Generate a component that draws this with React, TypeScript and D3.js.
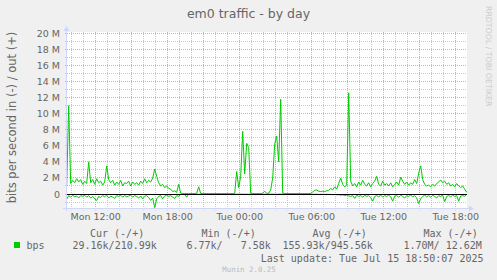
import React from 'react';
import * as d3 from 'd3';

const title = 'em0 traffic - by day';
const yAxisTitle = 'bits per second in (-) / out (+)';
const watermark = 'RRDTOOL / TOBI OETIKER';
const yTickValues = [0, 2, 4, 6, 8, 10, 12, 14, 16, 18, 20];
const yTickLabels = ['0', '2 M', '4 M', '6 M', '8 M', '10 M', '12 M', '14 M', '16 M', '18 M', '20 M'];
const xTickHours = [12, 18, 24, 30, 36, 42];
const xTickLabels = ['Mon 12:00', 'Mon 18:00', 'Tue 00:00', 'Tue 06:00', 'Tue 12:00', 'Tue 18:00'];

// hours since Monday 00:00; one sample every 10 minutes
const startHour = 9 + 35 / 60;
const endHour = startHour + 400 / 12;
const stepHours = 10 / 60;

// out (+), Mbit/s
const outValues = [
  1.0, 11.0, 1.3, 1.7, 1.4, 1.9, 1.5, 1.8, 1.2, 1.6,
  1.3, 4.0, 1.4, 1.8, 1.2, 1.9, 1.4, 1.6, 1.1, 1.5,
  3.5, 1.8, 1.4, 1.7, 1.1, 1.5, 1.2, 1.7, 1.0, 1.4,
  1.3, 1.6, 1.0, 1.5, 1.2, 1.4, 1.1, 1.6, 1.3, 1.9,
  1.4, 1.7, 1.5, 2.0, 3.1, 2.2, 1.4, 1.0, 1.2, 0.8,
  1.0, 0.7, 0.6, 0.3, 0.4, 0.2, 1.2, 0.1, 0.07, 0.06,
  0.06, 0.05, 0.06, 0.05, 0.06, 0.07, 0.9, 0.06, 0.05, 0.05,
  0.06, 0.05, 0.05, 0.06, 0.05, 0.05, 0.06, 0.05, 0.05, 0.06,
  0.05, 0.05, 0.06, 0.05, 0.07, 2.8, 0.8, 2.2, 7.8, 2.5,
  6.3, 5.8, 0.1, 0.06, 0.05, 0.06, 0.05, 0.06, 0.1, 0.35,
  0.08, 0.1, 0.5, 2.0, 6.2, 7.2, 4.0, 11.8, 0.1, 0.07,
  0.06, 0.06, 0.05, 0.06, 0.06, 0.05, 0.06, 0.06, 0.05, 0.06,
  0.05, 0.06, 0.07, 0.25, 0.45, 0.5, 0.35, 0.3, 0.35, 0.3,
  0.4, 0.45, 0.7, 0.5, 0.9, 0.6, 1.3, 2.0, 1.2, 0.9,
  1.1, 12.6, 1.6, 1.0, 1.3, 0.9, 1.5, 1.1, 1.7, 1.2,
  1.0, 1.4, 0.9, 1.3, 1.6, 2.2, 1.2, 1.0, 1.6, 1.1,
  1.3, 1.0, 1.4, 0.9, 1.2, 1.5, 1.1, 2.1, 1.6, 1.2,
  1.5, 1.1, 1.4, 1.2, 1.8, 1.3, 2.6, 3.5, 1.8, 1.2,
  1.0, 1.1, 0.9, 1.2, 1.0, 1.3, 1.5, 1.75, 1.4, 1.6,
  1.2, 1.4, 1.0, 1.2, 0.9, 1.3, 1.0, 0.8, 1.0, 0.6,
  0.21,
];

// in (-), Mbit/s (drawn below zero)
const inValues = [
  0.66, 0.2, 0.4, 0.15, 0.35, 0.25, 0.5, 0.2, 0.3, 0.15,
  0.4, 0.2, 0.5, 0.3, 0.6, 0.8, 0.3, 0.45, 0.2, 0.35,
  0.15, 0.5, 0.25, 0.4, 0.55, 0.2, 0.3, 0.15, 0.4, 0.2,
  0.35, 0.25, 0.15, 0.4, 0.2, 0.3, 0.5, 0.25, 0.6, 0.3,
  0.2, 0.45, 0.8, 0.5, 1.7, 0.6, 0.3, 0.2, 0.6, 0.25,
  0.15, 0.3, 0.2, 0.4, 0.55, 0.2, 0.3, 0.05, 0.03, 0.05,
  0.4, 0.03, 0.02, 0.02, 0.01, 0.02, 0.03, 0.02, 0.02, 0.01,
  0.02, 0.02, 0.01, 0.02, 0.02, 0.02, 0.01, 0.02, 0.02, 0.02,
  0.02, 0.01, 0.02, 0.02, 0.03, 0.02, 0.02, 0.01, 0.02, 0.02,
  0.02, 0.02, 0.01, 0.02, 0.02, 0.02, 0.01, 0.02, 0.02, 0.02,
  0.02, 0.01, 0.02, 0.02, 0.03, 0.02, 0.02, 0.01, 0.02, 0.02,
  0.02, 0.02, 0.01, 0.02, 0.02, 0.02, 0.01, 0.02, 0.02, 0.02,
  0.02, 0.02, 0.03, 0.03, 0.04, 0.03, 0.05, 0.04, 0.03, 0.05,
  0.04, 0.06, 0.05, 0.08, 0.06, 0.1, 0.08, 0.15, 0.1, 0.2,
  0.12, 0.25, 0.3, 0.2, 0.55, 0.15, 0.3, 0.2, 0.4, 0.15,
  0.3, 0.2, 0.45, 0.9, 0.3, 0.2, 0.35, 0.15, 0.4, 0.2,
  0.3, 0.15, 0.35, 0.9, 0.25, 0.2, 0.4, 0.15, 0.3, 0.5,
  0.2, 0.3, 0.15, 0.35, 0.2, 0.5, 1.2, 0.6, 0.3, 0.15,
  0.35, 0.2, 0.4, 0.15, 0.3, 0.5, 0.2, 0.3, 0.15, 0.95,
  0.3, 0.2, 0.35, 0.15, 0.3, 0.2, 0.9, 0.25, 0.2, 0.3,
  0.03,
];

const seriesName = 'bps';
const legendHeaders = ['Cur (-/+)', 'Min (-/+)', 'Avg (-/+)', 'Max (-/+)'];
const legendValues = ['29.16k/210.99k', '6.77k/   7.58k', '155.93k/945.56k', '1.70M/ 12.62M'];
const lastUpdate = 'Last update: Tue Jul 15 18:50:07 2025';
const footer = 'Munin 2.0.25';

const W = 497;
const H = 280;
const SANS = '"DejaVu Sans", sans-serif';
const MONO = '"DejaVu Sans Mono", monospace';
const TXT = '#666666';
const AXIS = '#CFD6F8';
const GREEN = '#00CC00';

export default function App() {
  const x = d3.scaleLinear().domain([startHour, endHour]).range([66.7, 466.7]);
  const y = d3.scaleLinear().domain([0, 20]).range([194, 33.4]);
  const crisp = (v: number) => Math.floor(v) + 0.5;

  const left = 67;
  const right = 467;
  const top = 32;
  const bottom = 208.5;

  const hourLines = d3.range(Math.ceil(startHour), endHour);
  const mLines = d3.range(-1, 21);

  const lineGen = d3
    .line<number>()
    .x((_, i) => x(startHour + i * stepHours))
    .y((d) => y(d));

  const outPath = lineGen(outValues) || '';
  const inPath = lineGen(inValues.map((v) => -v)) || '';

  const legendHeaderX = [90, 201.5, 312.5, 423.5];
  const legendValueX = [72.5, 186.5, 282.5, 403.5];

  return (
    <div style={{ position: 'absolute', left: 0, top: 0 }}>
      <svg width={W} height={H} viewBox={`0 0 ${W} ${H}`} style={{ display: 'block' }}>
        <rect x={0} y={0} width={W} height={H} fill="#F0F0F0" />
        <rect x={left} y={top} width={right - left} height={bottom - top} fill="#FFFFFF" />

        {/* minor horizontal grid */}
        {mLines.filter((v) => v % 2 !== 0).map((v) => (
          <line key={'hm' + v} x1={left - 2} x2={right} y1={crisp(y(v))} y2={crisp(y(v))}
            stroke="#C8C8C8" strokeWidth={1} strokeDasharray="1,1" />
        ))}
        {/* minor vertical grid */}
        {hourLines.filter((h) => h % 3 !== 0).map((h) => (
          <line key={'vm' + h} x1={crisp(x(h))} x2={crisp(x(h))} y1={top} y2={bottom + 2}
            stroke="#C8C8C8" strokeWidth={1} strokeDasharray="1,1" />
        ))}
        {/* major horizontal grid */}
        {mLines.filter((v) => v % 2 === 0).map((v) => (
          <line key={'hM' + v} x1={left - 2} x2={right} y1={crisp(y(v))} y2={crisp(y(v))}
            stroke="#F2A0A0" strokeWidth={1} strokeDasharray="1,1" />
        ))}
        {/* major vertical grid */}
        {hourLines.filter((h) => h % 3 === 0).map((h) => (
          <line key={'vM' + h} x1={crisp(x(h))} x2={crisp(x(h))} y1={top} y2={bottom + 2}
            stroke="#F2A0A0" strokeWidth={1} strokeDasharray="1,1" />
        ))}

        {/* data */}
        <path d={outPath} fill="none" stroke={GREEN} strokeWidth={1} />
        <path d={inPath} fill="none" stroke={GREEN} strokeWidth={1} />
        <line x1={left} x2={right} y1={crisp(y(0))} y2={crisp(y(0))} stroke="#000000" strokeWidth={1} />

        {/* axes */}
        <line x1={63} x2={469} y1={bottom} y2={bottom} stroke={AXIS} strokeWidth={1} />
        <path d={`M469,${bottom - 3}L474,${bottom}L469,${bottom + 3}Z`} fill={AXIS} />
        <line x1={66.5} x2={66.5} y1={211} y2={31} stroke={AXIS} strokeWidth={1} />
        <path d="M63.5,31L66.5,26L69.5,31Z" fill={AXIS} />

        {/* y tick labels */}
        {yTickValues.map((v, i) => (
          <text key={'yl' + v} x={60} y={y(v) + 3.5} textAnchor="end" fontFamily={SANS}
            fontSize={9.5} fill={TXT}>{yTickLabels[i]}</text>
        ))}
        {/* x tick labels */}
        {xTickHours.map((h, i) => (
          <text key={'xl' + h} x={x(h)} y={220} textAnchor="middle" fontFamily={SANS}
            fontSize={9.5} fill={TXT}>{xTickLabels[i]}</text>
        ))}

        {/* titles */}
        <text x={248.5} y={18.3} textAnchor="middle" fontFamily={SANS} fontSize={12.5} fill={TXT}>{title}</text>
        <text transform={`translate(15.5, ${(31 + 204) / 2}) rotate(-90)`} textAnchor="middle"
          fontFamily={SANS} fontSize={11.5} fill={TXT}>{yAxisTitle}</text>
        <text transform="translate(486, 6) rotate(90)" textAnchor="start" fontFamily={SANS}
          fontSize={7.8} fill="#CCCCCC">{watermark}</text>

        {/* legend */}
        {legendHeaders.map((t, i) => (
          <text key={'lh' + i} x={legendHeaderX[i]} y={237} fontFamily={MONO} fontSize={10}
            fill={TXT} style={{ whiteSpace: 'pre' }}>{t}</text>
        ))}
        <rect x={14} y={242} width={6} height={6} fill={GREEN} />
        <text x={26.5} y={249.3} fontFamily={MONO} fontSize={10} fill={TXT}>{seriesName}</text>
        {legendValues.map((t, i) => (
          <text key={'lv' + i} x={legendValueX[i]} y={249.3} fontFamily={MONO} fontSize={10}
            fill={TXT} style={{ whiteSpace: 'pre' }}>{t}</text>
        ))}
        <text x={483.5} y={261.5} textAnchor="end" fontFamily={MONO} fontSize={10} fill={TXT}
          style={{ whiteSpace: 'pre' }}>{lastUpdate}</text>
        <text x={249} y={272} textAnchor="middle" fontFamily={MONO} fontSize={7.4} fill="#BBBBBB">{footer}</text>
      </svg>
    </div>
  );
}
